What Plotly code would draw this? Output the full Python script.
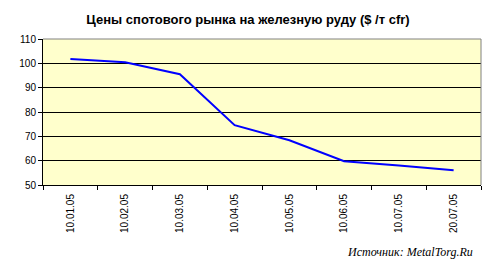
import plotly.graph_objects as go

dates = ["10.01.05", "10.02.05", "10.03.05", "10.04.05", "10.05.05", "10.06.05", "10.07.05", "20.07.05"]
prices = [101.8, 100.4, 95.5, 74.6, 68.4, 59.8, 58.0, 56.1]
y_ticks = [50, 60, 70, 80, 90, 100, 110]

title_text = "Цены спотового рынка на железную руду ($ /т cfr)"
source_text = "Источник: MetalTorg.Ru"

fig = go.Figure()
fig.add_trace(go.Scatter(x=dates, y=prices, mode="lines",
                         line=dict(color="#0000FF", width=2), showlegend=False))

fig.update_layout(
    width=500, height=269,
    margin=dict(l=43, r=19, t=39, b=84),
    paper_bgcolor="white", plot_bgcolor="#FFFFCC",
    title=dict(text="<b>" + title_text + "</b>", x=248/500, xanchor="center",
               y=1 - 19/269, yanchor="middle",
               font=dict(family="Arial, Liberation Sans", size=13, color="black")),
    font=dict(family="Arial, Liberation Sans", size=10, color="black"),
)
fig.update_xaxes(type="category", tickson="boundaries", ticks="outside", ticklen=4,
                 tickcolor="black", tickangle=-90, showgrid=False,
                 showline=True, linecolor="black", linewidth=1,
                 ticklabelstandoff=4,
                 range=[-0.5, len(dates) - 0.5], tickfont=dict(size=10))
fig.update_yaxes(range=[50, 110], tickvals=y_ticks, ticks="outside", ticklen=4,
                 tickcolor="black", showgrid=True, gridcolor="black", gridwidth=1,
                 showline=True, linecolor="black", linewidth=1, zeroline=False,
                 tickfont=dict(size=10))
# gray border top/right
fig.add_shape(type="line", xref="paper", yref="paper", x0=0, x1=1, y0=1, y1=1,
              line=dict(color="#808080", width=1))
fig.add_shape(type="line", xref="paper", yref="paper", x0=1, x1=1, y0=0, y1=1,
              line=dict(color="#808080", width=1))
fig.add_annotation(text="<i>" + source_text + "</i>", xref="paper", yref="paper",
                   x=(475 - 43) / 438, y=-(252 - 185) / 146, xanchor="right", yanchor="middle",
                   showarrow=False,
                   font=dict(family="Times New Roman, Liberation Serif", size=12, color="black"))

fig.write_html("out.html")
